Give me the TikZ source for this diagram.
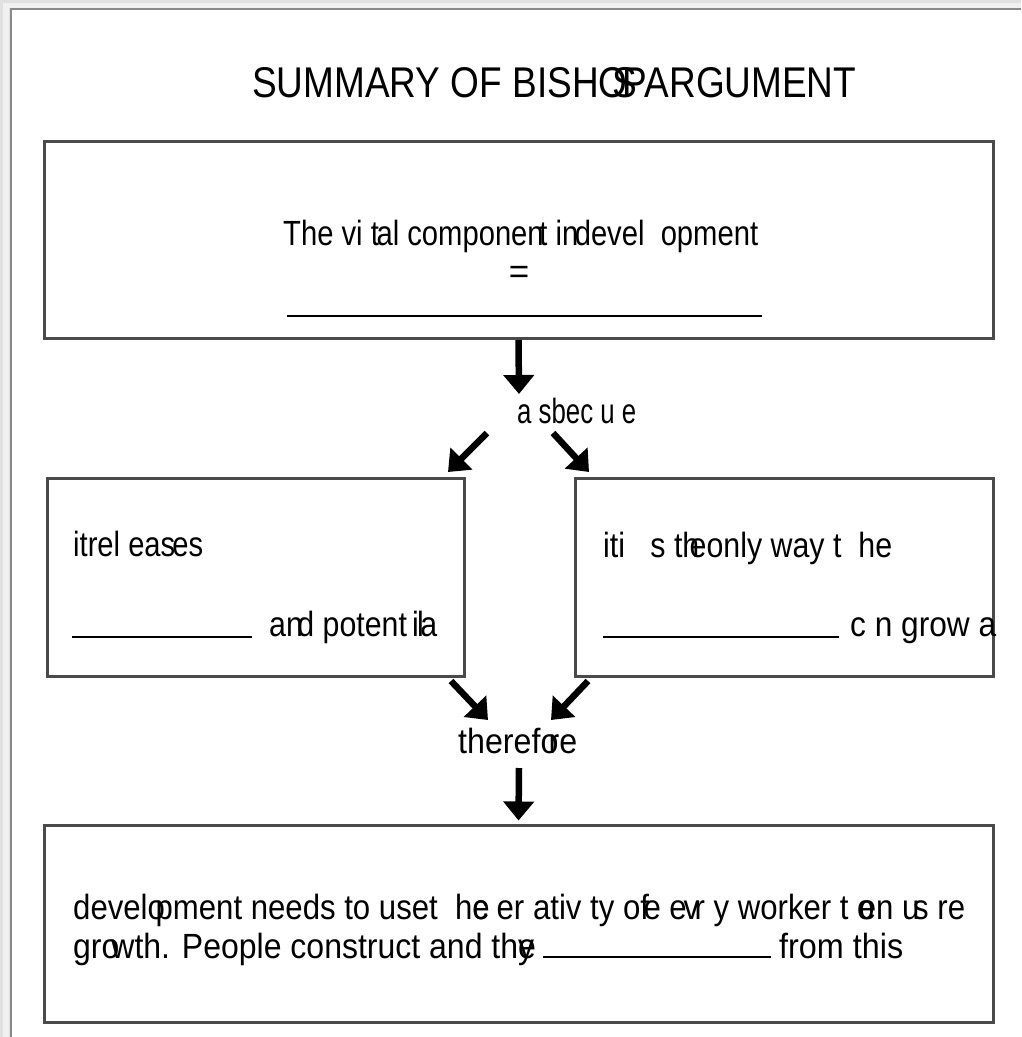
\documentclass[tikz,border=0pt]{standalone}
\usepackage{fontspec}
\setmainfont{Liberation Sans}
\usepackage{graphicx}
\usetikzlibrary{arrows.meta}
% set a text to a given width, keeping its height
\newcommand\fitto[2]{\resizebox{#1}{\height}{#2}}
\definecolor{boxgray}{HTML}{4A4A4A}
\definecolor{pageedge}{HTML}{8A8A8A}
\begin{document}
\begin{tikzpicture}[x=1pt,y=-1pt,
  box/.style={draw=boxgray, line width=3pt, inner sep=0pt},
  txt/.style={anchor=base west, inner sep=0pt, font=\fontsize{35}{41}\selectfont},
  blank/.style={line width=2.2pt, black},
  flow/.style={line width=6.5pt, -{Triangle[width=30pt,length=19pt]}},
]
\useasboundingbox (0,0) rectangle (1021,1037);
% page and its soft shadow
\fill[white] (0,0) rectangle (1021,1037);
\fill[black!12] (0,0) rectangle (1021,8);
\fill[black!12] (0,0) rectangle (10,1037);
\fill[black!6] (3,3) rectangle (1021,8);
\fill[black!6] (3,3) rectangle (9,1037);
\fill[white] (11,9) rectangle (1021,1037);
\draw[pageedge, line width=2.2pt] (11,1037) -- (11,9) -- (1021,9);

% title
\node[txt, font=\fontsize{43}{50}\selectfont] (title) at (252,97)
  {\fitto{604pt}{SUMMARY OF BISHO\kern-0.42em S\kern-0.38em PARGUMENT}};

% boxes
\node[box, minimum width=949pt, minimum height=197pt] (b1) at (518.5,240) {};
\node[box, minimum width=417pt, minimum height=198pt] (b2) at (255.5,577) {};
\node[box, minimum width=418pt, minimum height=198pt] (b3) at (784,577) {};
\node[box, minimum width=949pt, minimum height=197pt] (b4) at (518.5,923.5) {};

% top box
\node[txt] (t1) at (283,245)
  {\fitto{475pt}{The vi t\kern-0.08em al componen\kern-0.15em t in\kern-0.12em devel\ \ opment}};
\node[inner sep=0pt, font=\fontsize{35}{41}\selectfont] (eq) at (519,275) {=};
\draw[blank] (287,316) -- (762,316);

% connecting word
\node[txt] (because) at (517,423) {\fitto{119pt}{a sbec u e}};

% left box
\node[txt] (t2) at (73,556) {\fitto{130pt}{itrel eas\kern-0.1em es}};
\draw[blank] (72,637) -- (252,637);
\node[txt] (t3) at (269,636)
  {\fitto{168pt}{an\kern-0.18em d potent\,i\kern-0.05em l\kern-0.12em a}};

% right box
\node[txt] (t4) at (603,557)
  {\fitto{289pt}{iti\ \ \ s th\kern-0.32em eonly way t\ \ he}};
\draw[blank] (603,637) -- (839,637);
\node[txt] (t5) at (850,636) {\fitto{146pt}{c n grow a}};

% second connecting word
\node[txt] (therefore) at (458,753)
  {\fitto{119pt}{theref\rlap{o}\kern0.25em re}};

% bottom box
\node[txt] (t6) at (73,919)
  {\fitto{892pt}{develo\kern-0.3em pment needs to uset\ \ h\rlap{e}c er ativ ty o\rlap{f}\kern0.1em e e\kern-0.1em v\kern-0.15em r y worker t\ \rlap{o}\kern0.05em en u\kern-0.2em s re}};
\node[txt] (t7) at (73,958)
  {\fitto{461pt}{gro\kern-0.25em wth. People construct and th\rlap{e}y}};
\draw[blank] (543,957) -- (771,957);
\node[txt] (t8) at (779,958) {\fitto{124pt}{from this}};

% arrow end points
\coordinate (a1tip) at (519,394);
\coordinate (dlTail) at (487,433);
\coordinate (dlTip) at (448,472);
\coordinate (drTail) at (553,433);
\coordinate (drTip) at (589,472);
\coordinate (ulTail) at (451,681);
\coordinate (ulTip) at (488,720);
\coordinate (urTail) at (588,681);
\coordinate (urTip) at (551,720);
\coordinate (a2tail) at (519,768);

% arrows
\draw[flow] (b1.south) -- (a1tip);
\draw[flow] (dlTail) -- (dlTip);
\draw[flow] (drTail) -- (drTip);
\draw[flow] (ulTail) -- (ulTip);
\draw[flow] (urTail) -- (urTip);
\draw[flow, shorten >=3pt] (a2tail) -- (b4.north);
\end{tikzpicture}
\end{document}
